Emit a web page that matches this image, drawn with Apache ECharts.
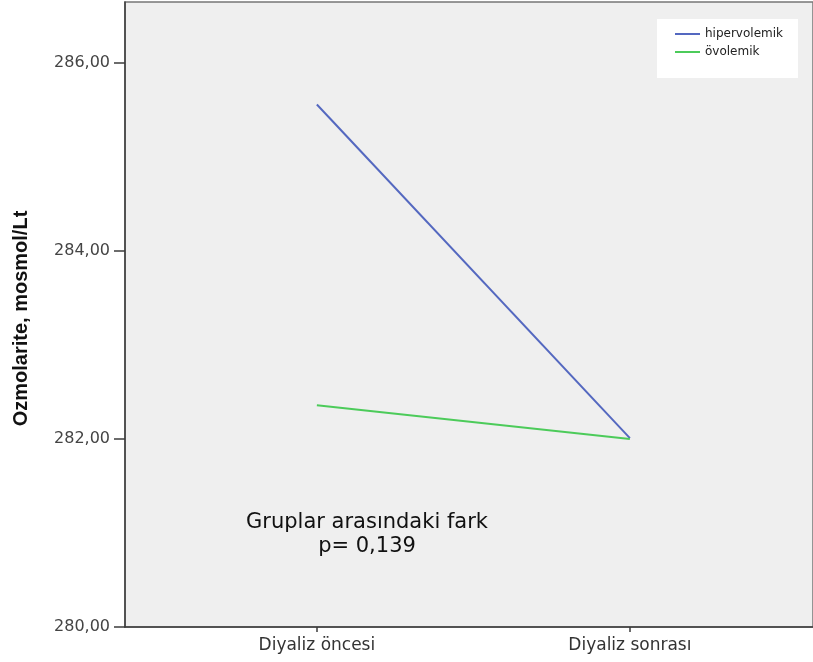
<!DOCTYPE html>
<html>
<head>
<meta charset="utf-8">
<script src="https://cdn.jsdelivr.net/npm/echarts@6/dist/echarts.min.js"></script>
<style>html,body{margin:0;padding:0;background:#fff}#c{width:813px;height:662px}</style>
</head>
<body>
<div id="c"></div>
<script>
var categories = ['Diyaliz öncesi', 'Diyaliz sonrası'];
var seriesNames = ['hipervolemik', 'övolemik'];
var hipervolemik = [285.56, 282.01];
var ovolemik = [282.36, 282.00];
var yTicks = [280, 282, 284, 286];
var annotation = ['Gruplar arasındaki fark', 'p= 0,139'];

function toPoints(vals) { return vals.map(function (v, i) { return [i, v]; }); }

var chart = echarts.init(document.getElementById('c'), null, { renderer: 'canvas' });
chart.setOption({
  animation: false,
  backgroundColor: '#ffffff',
  grid: { left: 125, top: 2, right: 0, bottom: 35, show: true, backgroundColor: '#efefef', borderColor: '#777', borderWidth: 1.5 },
  legend: {
    orient: 'vertical', left: 657, top: 19,
    backgroundColor: '#ffffff',
    padding: [8, 15, 19, 18],
    itemGap: 4, itemWidth: 25, itemHeight: 2, icon: 'rect',
    textStyle: { fontFamily: 'DejaVu Sans', fontSize: 12, color: '#222', lineHeight: 14 },
    data: seriesNames
  },
  xAxis: {
    type: 'value', min: -0.613, max: 1.585,
    axisLine: { onZero: false, lineStyle: { color: '#3c3c3c', width: 1.5 } },
    splitLine: { show: false },
    axisTick: { length: 5, lineStyle: { color: '#3c3c3c', width: 1.5 }, customValues: [0, 1] },
    axisLabel: { customValues: [0, 1], margin: 10, fontFamily: 'DejaVu Sans', fontSize: 17, color: '#333',
      formatter: function (v) { return categories[Math.round(v)]; } }
  },
  yAxis: {
    type: 'value', min: 280, max: 286.65,
    name: 'Ozmolarite, mosmol/Lt', nameLocation: 'middle', nameGap: 94, nameRotate: 90,
    nameTextStyle: { fontFamily: 'Liberation Sans', fontWeight: 'bold', fontSize: 20, color: '#111', padding: [0, 8, 0, 0] },
    axisLine: { show: true, onZero: false, lineStyle: { color: '#3c3c3c', width: 1.5 } },
    splitLine: { show: false },
    axisTick: { show: true, length: 11, lineStyle: { color: '#3c3c3c', width: 1.5 }, customValues: yTicks },
    axisLabel: { customValues: yTicks, margin: 15, fontFamily: 'DejaVu Sans', fontSize: 16, color: '#444',
      formatter: function (v) { return v.toFixed(2).replace('.', ','); } }
  },
  series: [
    { name: seriesNames[0], type: 'line', data: toPoints(hipervolemik), showSymbol: false, symbol: 'none',
      lineStyle: { color: '#5468c0', width: 2 }, itemStyle: { color: '#5468c0' } },
    { name: seriesNames[1], type: 'line', data: toPoints(ovolemik), showSymbol: false, symbol: 'none',
      lineStyle: { color: '#4ccb5a', width: 2 }, itemStyle: { color: '#4ccb5a' } }
  ],
  graphic: [{
    type: 'text',
    style: { text: annotation.join('\n'), x: 367, y: 511, align: 'center', verticalAlign: 'top',
      fontFamily: 'DejaVu Sans', fontSize: 21, lineHeight: 24, fill: '#111' }
  }]
});
</script>
</body>
</html>
